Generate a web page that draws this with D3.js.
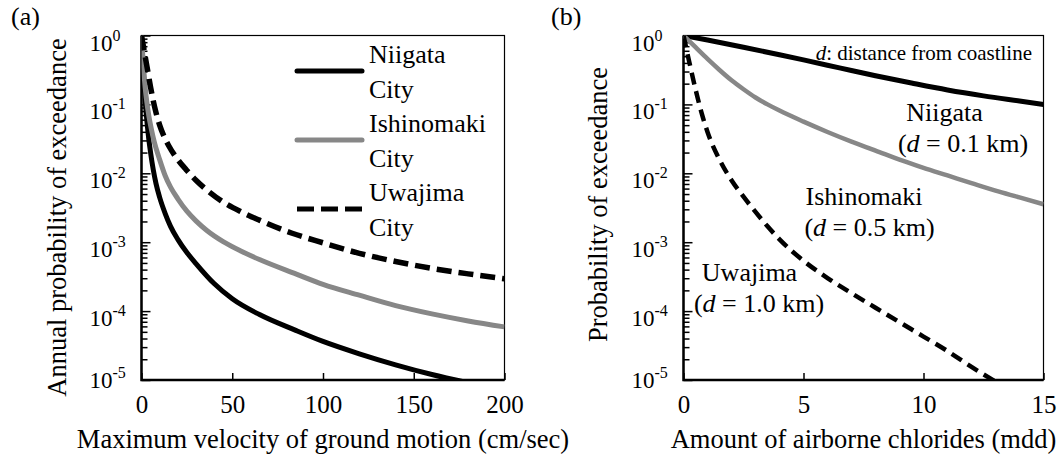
<!DOCTYPE html>
<html lang="en">
<head>
<meta charset="UTF-8">
<title>Probability of exceedance</title>
<script src="https://cdnjs.cloudflare.com/ajax/libs/d3/7.8.2/d3.min.js"></script>
<style>
  body { margin: 0; background: #fff; }
  svg { display: block; font-family: "Times New Roman", "Liberation Serif", serif; }
</style>
</head>
<body>
<script>
// ---- (a) ground motion ----
const velTicks = [0, 50, 100, 150, 200];

const velNiigata = [0, 1, 2, 3, 4, 5, 6.5, 8, 10, 13, 16, 20, 25, 30, 40, 50, 65, 85, 100, 120, 140, 160, 180];
const pNiigataA  = [1, 0.316, 0.117, 0.0562, 0.0316, 0.02, 0.0112, 7.08e-3, 4.47e-3, 2.63e-3, 1.7e-3, 1.1e-3, 7.08e-4, 4.9e-4, 2.51e-4, 1.51e-4, 8.9e-5, 5.25e-5, 3.63e-5, 2.4e-5, 1.66e-5, 1.2e-5, 9.1e-6];

const velIshinomaki = [0, 1, 2, 3, 4, 5.5, 7, 10, 13, 16, 20, 25, 30, 36, 45, 55, 65, 85, 100, 120, 140, 160, 180, 200];
const pIshinomakiA  = [1, 0.38, 0.178, 0.105, 0.0692, 0.0427, 0.0288, 0.0158, 9.3e-3, 6.3e-3, 4.27e-3, 2.82e-3, 2.04e-3, 1.48e-3, 1.02e-3, 7.4e-4, 5.6e-4, 3.47e-4, 2.45e-4, 1.7e-4, 1.2e-4, 9.1e-5, 7.2e-5, 5.9e-5];

const velUwajima = [0, 1, 2, 3, 4, 5, 6.5, 8, 10, 12.5, 15, 20, 25, 30, 35, 44, 55, 65, 83, 100, 120, 140, 160, 180, 200];
const pUwajimaA  = [1, 0.708, 0.501, 0.355, 0.251, 0.178, 0.112, 0.0759, 0.0501, 0.0339, 0.0251, 0.0158, 0.011, 7.94e-3, 6.03e-3, 3.98e-3, 2.75e-3, 2.09e-3, 1.35e-3, 9.8e-4, 6.9e-4, 5.25e-4, 4.17e-4, 3.47e-4, 2.95e-4];

const legendNames = ["Niigata", "Ishinomaki", "Uwajima"];

// ---- (b) airborne chlorides ----
const chlTicks = [0, 5, 10, 15];

const chlNiigata = [0, 1, 2.5, 4, 5, 6.5, 8, 9.5, 11, 12.5, 14, 15];
const pNiigataB  = [1, 0.861, 0.676, 0.525, 0.442, 0.339, 0.26, 0.204, 0.162, 0.133, 0.112, 0.1];

const chlIshinomaki = [0, 0.5, 1, 1.5, 2, 2.5, 3, 3.5, 4, 5, 6, 7, 8, 9, 10, 11, 12, 13, 14, 15];
const pIshinomakiB  = [1, 0.676, 0.457, 0.316, 0.224, 0.166, 0.126, 0.1, 0.0813, 0.0562, 0.0398, 0.0288, 0.0214, 0.0158, 0.012, 9.3e-3, 7.2e-3, 5.6e-3, 4.47e-3, 3.55e-3];

const chlUwajima = [0, 0.25, 0.5, 0.75, 1, 1.5, 2, 2.5, 3, 3.5, 4, 5, 6, 7, 8, 9, 10, 11, 12, 13];
const pUwajimaB  = [1, 0.398, 0.166, 0.0759, 0.0398, 0.0158, 7.94e-3, 4.57e-3, 2.75e-3, 1.7e-3, 1.1e-3, 5.37e-4, 3.02e-4, 1.82e-4, 1.12e-4, 6.9e-5, 4.27e-5, 2.63e-5, 1.55e-5, 9.5e-6];

const siteDistance = ["0.1", "0.5", "1.0"];

const yDecades = [1, 1e-1, 1e-2, 1e-3, 1e-4, 1e-5];

// ---- drawing ----
const width = 1063, height = 459;
const grey = '#878787';

const svg = d3.select('body').append('svg')
    .attr('width', width).attr('height', height);

const zip = (xs, ys) => xs.map((v, i) => [v, ys[i]]);

function drawPanel(opt) {
    const x = d3.scaleLinear().domain(opt.xDomain).range([opt.left, opt.right]);
    const y = d3.scaleLog().domain([1e-5, 1]).range([opt.bottom, opt.top]);
    const g = svg.append('g');

    g.append('clipPath').attr('id', 'clip-' + opt.id)
        .append('rect')
        .attr('x', opt.left).attr('y', opt.top)
        .attr('width', opt.right - opt.left).attr('height', opt.bottom - opt.top);

    // minor + major ticks, pointing inward
    const minors = y.ticks().filter(v => !yDecades.some(d => Math.abs(d - v) / d < 1e-6));
    const yMinor = g.append('g').attr('transform', `translate(${opt.left},0)`)
        .call(d3.axisLeft(y).tickValues(minors).tickSize(-6).tickFormat(''));
    const yMajor = g.append('g').attr('transform', `translate(${opt.left},0)`)
        .call(d3.axisLeft(y).tickValues(yDecades).tickSize(-9).tickFormat(''));
    const xAx = g.append('g').attr('transform', `translate(0,${opt.bottom})`)
        .call(d3.axisBottom(x).tickValues(opt.xTicks).tickSize(-7).tickPadding(15).tickFormat(d3.format('d')));

    [yMinor, yMajor, xAx].forEach(a => {
        a.select('.domain').remove();
        a.selectAll('line').attr('stroke', '#000').attr('stroke-width', 1.5);
    });
    xAx.attr('font-family', null).attr('font-size', 25);
    xAx.selectAll('text').attr('fill', '#000');

    // y tick labels 10^n
    yDecades.forEach(v => {
        const e = Math.round(Math.log10(v));
        const t = g.append('text')
            .attr('x', opt.left - 52)
            .attr('y', Math.min(y(v) + 15, opt.bottom + 8))
            .attr('font-size', 23);
        t.append('tspan').text('10');
        t.append('tspan').attr('dy', -10).attr('font-size', 16).text(e === 0 ? '0' : String(e));
    });

    // frame
    g.append('rect')
        .attr('x', opt.left).attr('y', opt.top)
        .attr('width', opt.right - opt.left).attr('height', opt.bottom - opt.top)
        .attr('fill', 'none').attr('stroke', '#000').attr('stroke-width', 1.2);
    g.append('path')
        .attr('d', `M${opt.left},${opt.top}V${opt.bottom}H${opt.right}`)
        .attr('fill', 'none').attr('stroke', '#000').attr('stroke-width', 2.5);

    // series
    const line = d3.line()
        .x(d => x(d[0]))
        .y(d => y(d[1]))
        .curve(d3.curveMonotoneX);

    g.append('g').attr('clip-path', `url(#clip-${opt.id})`)
        .selectAll('path')
        .data(opt.series)
        .join('path')
        .attr('d', s => line(zip(s.xs, s.ps)))
        .attr('fill', 'none')
        .attr('stroke', s => s.color)
        .attr('stroke-width', s => s.width)
        .attr('stroke-dasharray', s => s.dash || null);

    // axis titles
    g.append('text')
        .attr('x', (opt.left + opt.right) / 2).attr('y', 448)
        .attr('text-anchor', 'middle').attr('font-size', 26.5)
        .text(opt.xTitle);
    g.append('text')
        .attr('transform', `translate(${opt.yTitleX},${opt.yTitleY}) rotate(-90)`)
        .attr('text-anchor', 'middle').attr('font-size', 26.5)
        .text(opt.yTitle);

    // panel letter
    g.append('text')
        .attr('x', opt.letterX).attr('y', 25)
        .attr('font-size', 26)
        .text(opt.letter);

    return { g, x, y };
}

const seriesA = [
    { xs: velNiigata, ps: pNiigataA, color: '#000', width: 5 },
    { xs: velIshinomaki, ps: pIshinomakiA, color: grey, width: 5 },
    { xs: velUwajima, ps: pUwajimaA, color: '#000', width: 5.5, dash: '15,7' }
];

const a = drawPanel({
    id: 'a', left: 141.5, right: 504.5, top: 35.5, bottom: 380,
    xDomain: [0, 200], xTicks: velTicks, series: seriesA,
    xTitle: 'Maximum velocity of ground motion (cm/sec)',
    yTitle: 'Annual probability of exceedance', yTitleX: 66, yTitleY: 217.5,
    letter: '(a)', letterX: 11
});

// legend (two text lines per entry)
const legend = a.g.append('g');
seriesA.forEach((s, i) => {
    const base = 63 + i * 69;
    legend.append('line')
        .attr('x1', 297).attr('x2', 362)
        .attr('y1', base + 8).attr('y2', base + 8)
        .attr('stroke', s.color).attr('stroke-width', 5)
        .attr('stroke-dasharray', s.dash ? '17,7' : null)
        .attr('stroke-linecap', s.dash ? 'butt' : 'round');
    legend.append('text').attr('x', 369).attr('y', base).attr('font-size', 26).text(legendNames[i]);
    legend.append('text').attr('x', 369).attr('y', base + 34.5).attr('font-size', 26).text('City');
});

const seriesB = [
    { xs: chlNiigata, ps: pNiigataB, color: '#000', width: 5 },
    { xs: chlIshinomaki, ps: pIshinomakiB, color: grey, width: 4.5 },
    { xs: chlUwajima, ps: pUwajimaB, color: '#000', width: 4.5, dash: '12,7' }
];

const b = drawPanel({
    id: 'b', left: 683.5, right: 1043.5, top: 35.5, bottom: 380,
    xDomain: [0, 15], xTicks: chlTicks, series: seriesB,
    xTitle: 'Amount of airborne chlorides (mdd)',
    yTitle: 'Probability of exceedance', yTitleX: 607, yTitleY: 204.5,
    letter: '(b)', letterX: 551
});

// note
const note = b.g.append('text')
    .attr('x', 1032).attr('y', 60)
    .attr('text-anchor', 'end').attr('font-size', 21);
note.append('tspan').attr('font-style', 'italic').text('d');
note.append('tspan').text(': distance from coastline');

// site labels
const labelPos = [
    { cx: 944.5, cx2: 963, y: 120.7 },
    { cx: 864, cx2: 869.5, y: 204.5 },
    { cx: 749.5, cx2: 759, y: 280.7 }
];
labelPos.forEach((p, i) => {
    b.g.append('text')
        .attr('x', p.cx).attr('y', p.y)
        .attr('text-anchor', 'middle').attr('font-size', 26)
        .text(legendNames[i]);
    const t = b.g.append('text')
        .attr('x', p.cx2).attr('y', p.y + 31)
        .attr('text-anchor', 'middle').attr('font-size', 26);
    t.append('tspan').text('(');
    t.append('tspan').attr('font-style', 'italic').text('d');
    t.append('tspan').text(' = ' + siteDistance[i] + ' km)');
});
</script>
</body>
</html>
